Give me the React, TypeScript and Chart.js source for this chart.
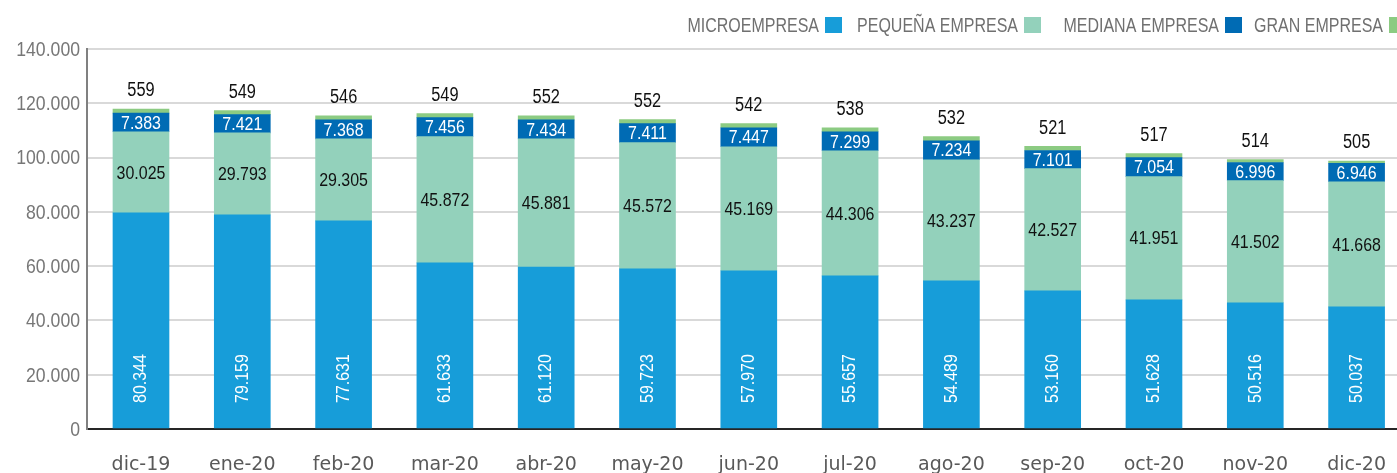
import { useEffect, useRef } from 'react';
import { Chart, registerables } from 'chart.js';

Chart.register(...registerables);

const categories = ['dic-19', 'ene-20', 'feb-20', 'mar-20', 'abr-20', 'may-20', 'jun-20', 'jul-20', 'ago-20', 'sep-20', 'oct-20', 'nov-20', 'dic-20'];

// Bar heights as drawn in the picture
const microValues = [79600, 78900, 76700, 61200, 59700, 59000, 58300, 56400, 54600, 50900, 47600, 46500, 45000];
const pequenaValues = [29900, 30200, 30200, 46500, 47200, 46500, 45700, 46100, 44600, 45000, 45400, 45000, 46100];
const medianaValues = [6900, 6700, 7000, 7000, 7000, 7000, 7000, 7000, 7000, 6700, 7000, 6700, 6800];
const granValues = [1500, 1500, 1500, 1500, 1500, 1500, 1500, 1500, 1500, 1500, 1500, 1100, 850];

// Value labels printed on the picture
const microLabels = [80344, 79159, 77631, 61633, 61120, 59723, 57970, 55657, 54489, 53160, 51628, 50516, 50037];
const pequenaLabels = [30025, 29793, 29305, 45872, 45881, 45572, 45169, 44306, 43237, 42527, 41951, 41502, 41668];
const medianaLabels = [7383, 7421, 7368, 7456, 7434, 7411, 7447, 7299, 7234, 7101, 7054, 6996, 6946];
const granLabels = [559, 549, 546, 549, 552, 552, 542, 538, 532, 521, 517, 514, 505];

const seriesNames = ['MICROEMPRESA', 'PEQUEÑA EMPRESA', 'MEDIANA EMPRESA', 'GRAN EMPRESA'];
const yMin = 0;
const yMax = 140000;
const yStep = 20000;

const COLORS = ['#179DD9', '#93D1BB', '#006BB4', '#8CCB82'];
const FONT = "'Liberation Sans', Arial, sans-serif";
const SQUEEZE = 0.84;

const fmt = (n: number) => String(Math.round(n)).replace(/\B(?=(\d{3})+(?!\d))/g, '.');

function narrowText(
  ctx: CanvasRenderingContext2D,
  text: string,
  x: number,
  y: number,
  size: number,
  color: string,
  align: CanvasTextAlign,
  baseline: CanvasTextBaseline,
  squeeze = SQUEEZE,
  rotate = 0,
  family = FONT,
) {
  ctx.save();
  ctx.translate(x, y);
  if (rotate) ctx.rotate(rotate);
  ctx.scale(squeeze, 1);
  ctx.font = `${size}px ${family}`;
  ctx.fillStyle = color;
  ctx.textAlign = align;
  ctx.textBaseline = baseline;
  ctx.fillText(text, 0, 0);
  ctx.restore();
}

const labelPlugin = {
  id: 'valueLabels',
  afterDatasetsDraw(chart: any) {
    const ctx = chart.ctx as CanvasRenderingContext2D;
    const base = chart.scales.y.getPixelForValue(0);
    chart.getDatasetMeta(0).data.forEach((bar: any, i: number) => {
      narrowText(ctx, fmt(microLabels[i]), bar.x, base - 26, 19, '#ffffff', 'left', 'middle', SQUEEZE, -Math.PI / 2);
    });
    chart.getDatasetMeta(1).data.forEach((bar: any, i: number) => {
      narrowText(ctx, fmt(pequenaLabels[i]), bar.x, (bar.y + bar.base) / 2 + 1, 19, '#111111', 'center', 'middle');
    });
    chart.getDatasetMeta(2).data.forEach((bar: any, i: number) => {
      narrowText(ctx, fmt(medianaLabels[i]), bar.x, (bar.y + bar.base) / 2 + 1, 19, '#ffffff', 'center', 'middle');
    });
    chart.getDatasetMeta(3).data.forEach((bar: any, i: number) => {
      narrowText(ctx, fmt(granLabels[i]), bar.x, bar.y - 18, 19.5, '#111111', 'center', 'middle');
    });
  },
};

const axisLabelPlugin = {
  id: 'axisLabels',
  afterDraw(chart: any) {
    const ctx = chart.ctx as CanvasRenderingContext2D;
    const y = chart.scales.y;
    const x = chart.scales.x;
    for (let v = yMin; v <= yMax; v += yStep) {
      narrowText(ctx, fmt(v), y.right - 7, y.getPixelForValue(v) + 1, 21, '#777777', 'right', 'middle');
    }
    categories.forEach((c, i) => {
      narrowText(ctx, c, x.getPixelForValue(i), x.top + 41, 19, '#595959', 'center', 'alphabetic', 1, 0, "'DejaVu Sans', sans-serif");
    });
  },
};

const legendPlugin = {
  id: 'rightLegend',
  afterDraw(chart: any) {
    const ctx = chart.ctx as CanvasRenderingContext2D;
    const boxX = [825, 1024, 1225, 1389];
    seriesNames.forEach((name, i) => {
      narrowText(ctx, name, boxX[i] - 6, 32, 20, '#707070', 'right', 'alphabetic', 0.8);
      ctx.save();
      ctx.fillStyle = COLORS[i];
      ctx.fillRect(boxX[i], 17, 17, 16);
      ctx.restore();
    });
  },
};

export default function App() {
  const ref = useRef<HTMLCanvasElement | null>(null);

  useEffect(() => {
    document.body.style.margin = '0';
    const canvas = ref.current;
    if (!canvas) return;
    const series = [microValues, pequenaValues, medianaValues, granValues];
    const chart = new Chart(canvas, {
      type: 'bar',
      data: {
        datasets: series.map((vals, s) => ({
          label: seriesNames[s],
          data: categories.map((_, i) => ({ x: i, y: vals[i] })),
          backgroundColor: COLORS[s],
          borderWidth: 0,
          barThickness: 56,
        })),
      },
      options: {
        animation: false,
        responsive: false,
        maintainAspectRatio: false,
        layout: { padding: { top: 49, left: 0, right: 0, bottom: 0 } },
        plugins: { legend: { display: false }, tooltip: { enabled: false } },
        scales: {
          x: {
            type: 'linear',
            stacked: true,
            offset: false,
            bounds: 'data',
            min: -0.533,
            max: 12.399,
            grid: { display: false, drawTicks: false, offset: false },
            border: { display: true, color: '#262626', width: 2 },
            ticks: { stepSize: 1, display: false },
            afterFit: (s: any) => {
              s.height = 44;
            },
          },
          y: {
            stacked: true,
            min: yMin,
            max: yMax,
            grid: { color: '#d9d9d9', lineWidth: 2, drawTicks: false },
            border: { display: true, color: '#808080', width: 2 },
            ticks: { stepSize: yStep, display: false },
            afterFit: (s: any) => {
              s.width = 87;
            },
          },
        },
      } as any,
      plugins: [labelPlugin, axisLabelPlugin, legendPlugin],
    });
    return () => chart.destroy();
  }, []);

  return (
    <div style={{ width: 1397, height: 473, overflow: 'hidden' }}>
      <canvas ref={ref} width={1397} height={473} style={{ display: 'block', width: 1397, height: 473 }} />
    </div>
  );
}
